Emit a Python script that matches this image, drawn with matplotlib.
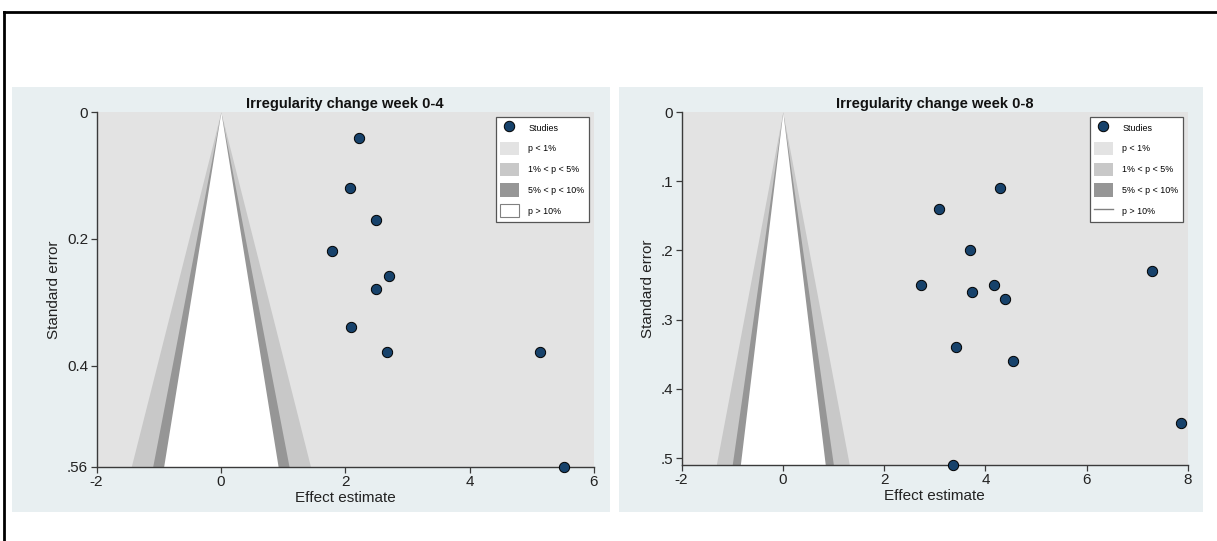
import matplotlib.pyplot as plt
import numpy as np
from matplotlib.patches import Patch, Rectangle
from matplotlib.lines import Line2D

plt.rcParams['font.family'] = ['Liberation Sans', 'DejaVu Sans']

# week 0-4 studies
effect_w4 = [2.22, 2.08, 2.50, 1.79, 2.70, 2.50, 2.09, 2.67, 5.13, 5.52]
se_w4 = [0.041, 0.120, 0.170, 0.220, 0.259, 0.279, 0.339, 0.379, 0.379, 0.56]

# week 0-8 studies
effect_w8 = [4.29, 3.09, 3.69, 7.29, 2.72, 3.74, 4.16, 4.38, 3.41, 4.54, 7.86, 3.36]
se_w8 = [0.110, 0.140, 0.200, 0.230, 0.250, 0.260, 0.250, 0.270, 0.340, 0.360, 0.449, 0.51]

titles = ['Irregularity change week 0-4', 'Irregularity change week 0-8']
x_ticks = [[-2, 0, 2, 4, 6], [-2, 0, 2, 4, 6, 8]]
y_ticks = [[0, 0.2, 0.4, 0.56], [0, 0.1, 0.2, 0.3, 0.4, 0.5]]
y_ticklabels = [['0', '0.2', '0.4', '.56'], ['0', '.1', '.2', '.3', '.4', '.5']]

# two-sided z cut-offs for the contour bands
z10, z5, z1 = 1.645, 1.96, 2.576

c_panel = '#e8eff1'
c_p1 = '#e3e3e3'
c_p5 = '#c8c8c8'
c_p10 = '#969696'
c_dot = '#17426b'

W, H = 1217, 541
fig = plt.figure(figsize=(W / 100, H / 100), dpi=100)

# outer frame (only top and left edges fall inside the canvas)
fig.add_artist(Line2D([4 / W, 1], [1 - 12 / H, 1 - 12 / H], color='black', lw=2,
                      transform=fig.transFigure))
fig.add_artist(Line2D([4 / W, 4 / W], [0, 1 - 12 / H], color='black', lw=2,
                      transform=fig.transFigure))

# panel backgrounds
for x0, x1 in [(12, 610), (619, 1203)]:
    fig.add_artist(Rectangle((x0 / W, 1 - 512 / H), (x1 - x0) / W, (512 - 87) / H,
                             facecolor=c_panel, edgecolor='none', transform=fig.transFigure,
                             zorder=0))

boxes = [(96.5, 594, 112, 467), (681.5, 1188, 112, 465)]
data = [(effect_w4, se_w4), (effect_w8, se_w8)]

for i, ((l, r, t, b), (eff, se)) in enumerate(zip(boxes, data)):
    ax = fig.add_axes([l / W, 1 - b / H, (r - l) / W, (b - t) / H])
    ax.set_facecolor(c_p1)
    ymax = max(se)
    xmin, xmax = x_ticks[i][0], x_ticks[i][-1]
    s = np.array([0, ymax])

    ax.fill_betweenx(s, -z1 * s, z1 * s, color=c_p5, lw=0)
    ax.fill_betweenx(s, -z5 * s, z5 * s, color=c_p10, lw=0)
    ax.fill_betweenx(s, -z10 * s, z10 * s, color='white', lw=0)

    ax.scatter(eff, se, s=55, color=c_dot, edgecolor='black', linewidth=0.7, zorder=5,
               clip_on=False)

    ax.set_xlim(xmin, xmax)
    ax.set_ylim(ymax, 0)
    ax.set_xticks(x_ticks[i])
    ax.set_xticklabels([str(v) for v in x_ticks[i]])
    ax.set_yticks(y_ticks[i])
    ax.set_yticklabels(y_ticklabels[i])
    for sp in ['top', 'right']:
        ax.spines[sp].set_visible(False)
    for sp in ['left', 'bottom']:
        ax.spines[sp].set_color('#3a3a3a')
        ax.spines[sp].set_linewidth(1.0)
    ax.tick_params(direction='out', length=4, width=0.9, color='#3a3a3a',
                   labelsize=11, labelcolor='#222222', pad=2)

    ax.set_title(titles[i], fontsize=10.5, fontweight='bold', pad=3, color='#111111')
    ax.set_xlabel('Effect estimate', fontsize=11, labelpad=1.5, color='#222222')
    ax.set_ylabel('Standard error', fontsize=11, labelpad=4, color='#222222')

    if i == 0:
        last = Patch(facecolor='white', edgecolor='#808080', lw=0.8)
    else:
        last = Line2D([], [], color='#808080', lw=1.0)
    handles = [
        Line2D([], [], marker='o', ls='none', markersize=7.5, markerfacecolor=c_dot,
               markeredgecolor='black', markeredgewidth=0.7),
        Patch(facecolor=c_p1, edgecolor='none'),
        Patch(facecolor=c_p5, edgecolor='none'),
        Patch(facecolor=c_p10, edgecolor='none'),
        last,
    ]
    labels = ['Studies', 'p < 1%', '1% < p < 5%', '5% < p < 10%', 'p > 10%']
    leg = ax.legend(handles, labels, loc='upper right', fontsize=6.4, frameon=True,
                    fancybox=False, edgecolor='#555555', framealpha=1,
                    handlelength=2.1, handleheight=1.9, labelspacing=0.85,
                    borderaxespad=0.55, handletextpad=1.1, borderpad=0.5)
    leg.get_frame().set_linewidth(0.9)

fig.savefig('out.png', dpi=100)
